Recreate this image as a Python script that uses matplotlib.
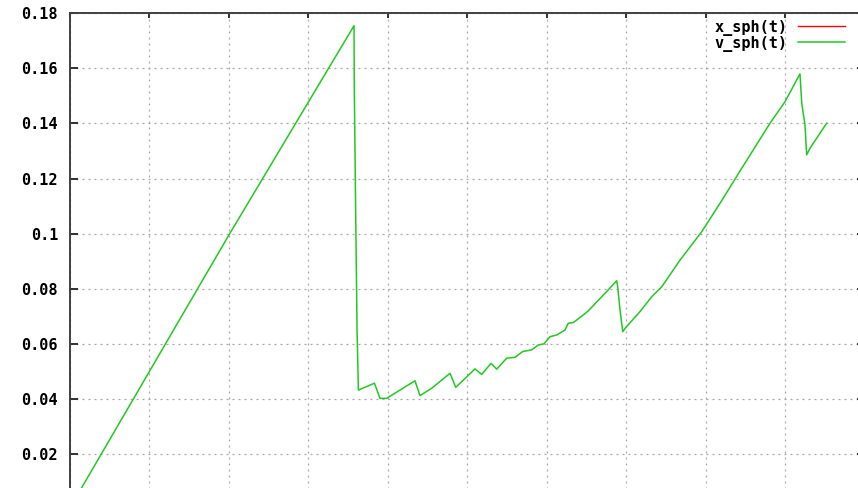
#!/usr/bin/env python3

import matplotlib
matplotlib.use("Agg")
import matplotlib.pyplot as plt

# v_sph(t)
t = [0.0, 2.0, 3.575, 3.578, 3.595, 3.613, 3.630,
     3.832, 3.902, 3.986, 4.342, 4.405, 4.553, 4.783, 4.855,
     5.098, 5.182, 5.299, 5.371, 5.496, 5.601, 5.698, 5.811,
     5.894, 5.966, 6.042, 6.126, 6.230, 6.272, 6.335, 6.461,
     6.524, 6.775, 6.881, 6.893, 6.923, 6.957, 6.986, 7.174,
     7.322, 7.448, 7.678, 7.951, 8.181, 8.454, 8.811, 8.999,
     9.188, 9.210, 9.251, 9.272, 9.314, 9.524]
v_sph = [0.0005, 0.0995, 0.1755, 0.1536, 0.1093, 0.0650, 0.0432,
         0.0457, 0.0402, 0.0402, 0.0466, 0.0412, 0.0439, 0.0493, 0.0442,
         0.0509, 0.0489, 0.0529, 0.0508, 0.0548, 0.0551, 0.0572, 0.0578,
         0.0596, 0.0600, 0.0626, 0.0632, 0.0650, 0.0675, 0.0677, 0.0705,
         0.0720, 0.0796, 0.0829, 0.0808, 0.0723, 0.0644, 0.0656, 0.0717,
         0.0771, 0.0807, 0.0904, 0.1007, 0.1110, 0.1237, 0.1401, 0.1479,
         0.1580, 0.1473, 0.1395, 0.1286, 0.1310, 0.1401]
# x_sph(t) is off the visible range, only its legend entry shows
x_sph = []

xticks = list(range(0, 11))
yticks = [0.02, 0.04, 0.06, 0.08, 0.1, 0.12, 0.14, 0.16, 0.18]
ylabels = ["0.02", "0.04", "0.06", "0.08", "0.1", "0.12", "0.14", "0.16", "0.18"]

W, H = 858, 488
fig = plt.figure(figsize=(W / 100, H / 100), dpi=100)
# plot box runs past the bottom and right edges of the picture (cropped gnuplot output)
left, right = 70, 864.5
top, bottom = 13.3, 509.1
ax = fig.add_axes([left / W, 1 - bottom / H, (right - left) / W, (bottom - top) / H])

font = {"family": "DejaVu Sans Mono", "weight": "bold", "size": 11}

ax.plot([], [], color="#ff0000", lw=1.0, label="x_sph(t)")
ax.plot(t, v_sph, color="#22c822", lw=1.1, label="v_sph(t)")

ax.set_xlim(0, 10)
ax.set_ylim(0, 0.18)
ax.set_xticks(xticks)
ax.set_yticks(yticks)
ax.set_yticklabels(ylabels, fontdict=font)

ax.grid(True, color="#a8a8a8", lw=0.9, linestyle=(0, (1.6, 3.2)))
ax.set_axisbelow(True)

for s in ax.spines.values():
    s.set_color("#404040")
    s.set_linewidth(1.4)

ax.tick_params(axis="y", direction="in", length=5.8, width=1.4, color="#303030",
               pad=8.6, left=True, right=True, labelcolor="black")
ax.tick_params(axis="x", direction="in", length=3.6, width=1.4, color="#303030",
               top=True, bottom=True, labelbottom=False)

leg = ax.legend(loc="upper right", bbox_to_anchor=(845 / W, 1 - 19.5 / H),
                bbox_transform=fig.transFigure, frameon=False, markerfirst=False,
                prop=font, handlelength=3.1, handletextpad=0.65, labelspacing=0.0,
                borderpad=0, borderaxespad=0)

fig.savefig("out.png", dpi=100)
